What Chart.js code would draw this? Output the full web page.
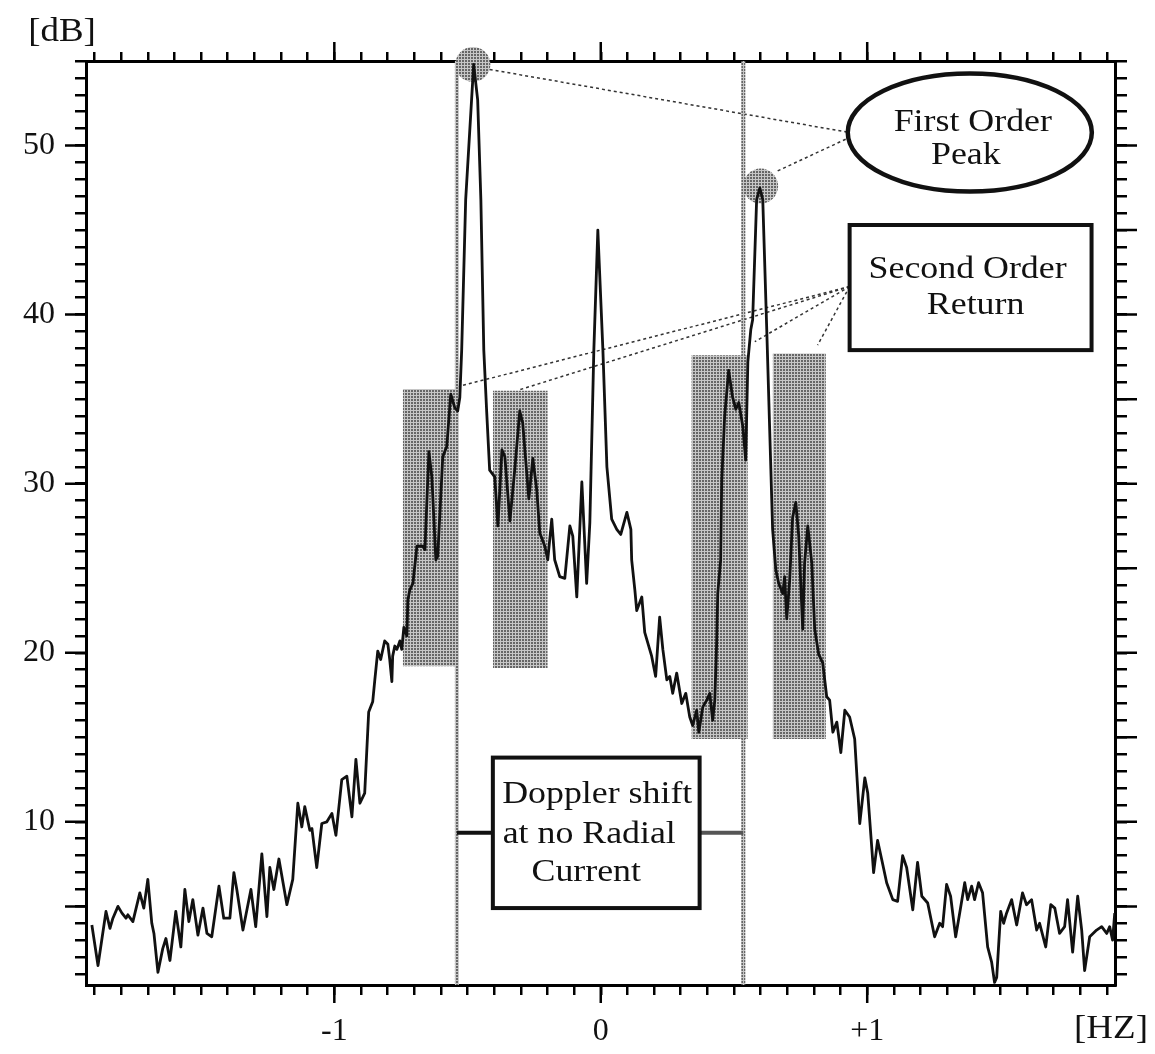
<!DOCTYPE html>
<html>
<head>
<meta charset="utf-8">
<script src="https://cdn.jsdelivr.net/npm/chart.js@4.4.1/dist/chart.umd.min.js"></script>
<style>
  html, body { margin: 0; padding: 0; background: #fff; }
  canvas { display: block; }
</style>
</head>
<body>
<canvas id="chart" width="1155" height="1054"></canvas>
<script>
Chart.defaults.font.family = "'Liberation Serif', 'Times New Roman', serif";
Chart.defaults.color = '#111';

// Doppler spectrum (Hz vs dB)
const freqHz = [
  -1.910, -1.887, -1.857, -1.842, -1.831, -1.812, -1.797, -1.782, -1.775, -1.756,
  -1.730, -1.715, -1.700, -1.685, -1.677, -1.662, -1.644, -1.632, -1.617, -1.595,
  -1.576, -1.561, -1.546, -1.531, -1.512, -1.493, -1.478, -1.460, -1.433, -1.415,
  -1.392, -1.377, -1.366, -1.343, -1.328, -1.313, -1.295, -1.272, -1.253, -1.242,
  -1.227, -1.208, -1.178, -1.156, -1.137, -1.122, -1.111, -1.092, -1.084, -1.066,
  -1.047, -1.028, -1.009, -0.994, -0.972, -0.953, -0.934, -0.919, -0.904, -0.886,
  -0.871, -0.856, -0.848, -0.837, -0.826, -0.811, -0.799, -0.792, -0.784, -0.781,
  -0.773, -0.765, -0.754, -0.747, -0.739, -0.728, -0.724, -0.717, -0.705, -0.690,
  -0.668, -0.660, -0.645, -0.634, -0.619, -0.612, -0.593, -0.578, -0.563, -0.548,
  -0.537, -0.529, -0.522, -0.507, -0.477, -0.462, -0.450, -0.439, -0.428, -0.417,
  -0.398, -0.386, -0.371, -0.360, -0.341, -0.323, -0.304, -0.293, -0.270, -0.255,
  -0.240, -0.229, -0.210, -0.199, -0.184, -0.173, -0.154, -0.135, -0.116, -0.105,
  -0.090, -0.071, -0.053, -0.041, -0.026, -0.011, 0.008, 0.023, 0.041, 0.060,
  0.075, 0.098, 0.113, 0.116, 0.128, 0.135, 0.154, 0.165, 0.191, 0.206,
  0.221, 0.233, 0.248, 0.259, 0.270, 0.285, 0.304, 0.319, 0.334, 0.345,
  0.360, 0.368, 0.383, 0.398, 0.409, 0.420, 0.428, 0.435, 0.439, 0.450,
  0.454, 0.465, 0.480, 0.495, 0.507, 0.518, 0.533, 0.544, 0.552, 0.563,
  0.570, 0.585, 0.597, 0.608, 0.623, 0.634, 0.645, 0.657, 0.668, 0.683,
  0.690, 0.698, 0.709, 0.720, 0.732, 0.743, 0.758, 0.765, 0.777, 0.792,
  0.803, 0.818, 0.833, 0.848, 0.859, 0.871, 0.886, 0.901, 0.916, 0.934,
  0.953, 0.972, 0.991, 1.002, 1.024, 1.039, 1.054, 1.073, 1.096, 1.114,
  1.133, 1.148, 1.171, 1.189, 1.205, 1.227, 1.253, 1.272, 1.283, 1.298,
  1.313, 1.332, 1.347, 1.366, 1.377, 1.392, 1.403, 1.418, 1.433, 1.452,
  1.467, 1.478, 1.486, 1.501, 1.512, 1.523, 1.542, 1.561, 1.583, 1.598,
  1.617, 1.636, 1.647, 1.670, 1.689, 1.704, 1.722, 1.741, 1.752, 1.771,
  1.790, 1.805, 1.816, 1.835, 1.861, 1.880, 1.899, 1.910, 1.921, 1.929
];
const levelDb = [
  3.9, 1.5, 4.7, 3.7, 4.3, 5.0, 4.6, 4.3, 4.5, 4.1,
  5.8, 4.9, 6.6, 4.0, 3.4, 1.1, 2.5, 3.1, 1.8, 4.7,
  2.6, 6.0, 4.1, 5.4, 3.3, 4.9, 3.4, 3.2, 6.2, 4.3,
  4.3, 7.0, 6.0, 3.6, 4.8, 6.0, 3.8, 8.1, 4.4, 7.3,
  6.0, 7.8, 5.1, 6.6, 11.1, 9.7, 10.9, 9.5, 9.6, 7.3,
  9.9, 10.0, 10.5, 9.2, 12.5, 12.7, 10.3, 13.7, 11.1, 11.7,
  16.5, 17.1, 18.4, 20.1, 19.6, 20.7, 20.5, 19.6, 18.3, 19.8,
  20.4, 20.2, 20.7, 20.2, 21.5, 21.0, 23.1, 23.7, 24.1, 26.3,
  26.3, 26.1, 31.9, 30.4, 25.5, 25.7, 31.6, 32.2, 35.3, 34.5,
  34.3, 35.1, 37.9, 46.8, 54.8, 52.7, 46.8, 37.9, 34.2, 30.8,
  30.4, 27.5, 32.0, 31.6, 27.8, 30.8, 34.3, 33.6, 29.1, 31.5,
  29.6, 27.1, 26.3, 25.5, 27.9, 25.5, 24.5, 24.4, 27.5, 26.9,
  23.3, 30.1, 24.1, 27.7, 37.9, 45.0, 37.9, 31.0, 27.9, 27.3,
  27.0, 28.3, 27.3, 25.5, 23.7, 22.5, 23.3, 21.2, 19.8, 18.6,
  22.1, 20.2, 18.4, 18.6, 17.6, 18.8, 17.0, 17.6, 16.2, 15.7,
  16.6, 15.3, 16.8, 17.2, 17.6, 16.0, 17.2, 20.6, 23.5, 25.5,
  30.2, 34.0, 36.7, 35.1, 34.4, 34.8, 33.4, 31.4, 37.2, 39.1,
  39.7, 46.8, 47.5, 46.8, 39.1, 33.2, 27.3, 24.9, 24.1, 23.5,
  24.5, 22.0, 24.3, 28.0, 28.9, 26.9, 21.4, 25.3, 27.5, 25.3,
  21.4, 19.9, 19.4, 17.4, 17.2, 15.3, 15.9, 14.1, 16.6, 16.2,
  14.9, 9.9, 12.6, 11.7, 7.0, 8.9, 7.8, 6.4, 5.4, 5.3,
  8.0, 7.3, 4.8, 7.6, 5.6, 5.2, 3.2, 4.0, 3.8, 6.3,
  5.6, 3.2, 4.6, 6.4, 5.4, 6.2, 5.4, 6.4, 5.8, 2.6,
  1.7, 0.5, 0.8, 4.7, 4.0, 4.6, 5.4, 3.9, 5.8, 5.1,
  5.4, 3.6, 4.0, 2.6, 5.1, 4.9, 3.4, 3.8, 5.4, 2.3,
  5.6, 3.6, 1.2, 3.2, 3.6, 3.8, 3.4, 3.8, 3.0, 4.6
];

// axes
const xMin = -1.932, xMax = 1.93;
const yMin = 0.35, yMax = 55;
const xLabelValues = [-1, 0, 1];
const xLabels = ['-1', '0', '+1'];
const yLabelValues = [10, 20, 30, 40, 50];
const yMajorLeft = [5, 10, 20, 30, 40, 50];
const yMajorRight = [5, 10, 15, 20, 25, 30, 35, 40, 45, 50];

// annotations (data units)
const braggHz = [-0.54, 0.535];
const peakHz = [-0.48, 0.60];
const peakDb = [54.8, 47.6];
const bandFromHz = [-0.743, -0.405, 0.340, 0.645];
const bandToHz = [-0.535, -0.199, 0.552, 0.845];
const bandTopDb = [35.6, 35.5, 37.6, 37.7];
const bandBottomDb = [19.2, 19.1, 14.9, 14.9];
const ovalCenter = { x: 1.385, y: 50.77 };
const ovalRadius = { x: 0.458, y: 3.49 };
const secondBox = { x0: 0.934, x1: 1.842, y0: 37.9, y1: 45.3 };
const dopplerBox = { x0: -0.405, x1: 0.371, y0: 4.9, y1: 13.8 };
const dopplerLinkDb = 9.35;
const firstLinks = [
  [{ x: -0.417, y: 54.5 }, { x: 0.923, y: 50.8 }],
  [{ x: 0.664, y: 48.5 }, { x: 0.923, y: 50.4 }]
];
const secondLinkFrom = { x: 0.934, y: 41.66 };
const secondLinkTo = [
  { x: -0.537, y: 35.74 }, { x: -0.304, y: 35.56 },
  { x: 0.578, y: 38.4 }, { x: 0.814, y: 38.2 }
];

const xTickValues = [];
for (let i = -19; i <= 19; i++) xTickValues.push(i / 10);
const yTickValues = [];
for (let i = 1; i <= 55; i++) yTickValues.push(i);

const canvas = document.getElementById('chart');
const ctx0 = canvas.getContext('2d');

// stippled grey like the scanned halftone
const tile = document.createElement('canvas');
tile.width = 3; tile.height = 3;
const tg = tile.getContext('2d');
tg.fillStyle = '#c6c6c6';
tg.fillRect(0, 0, 3, 3);
tg.fillStyle = '#666';
tg.fillRect(0, 0, 2, 2);
const stipple = ctx0.createPattern(tile, 'repeat');

const datasets = [];

datasets.push({
  data: freqHz.map((f, i) => ({ x: f, y: levelDb[i] })),
  showLine: true,
  borderColor: '#111',
  borderWidth: 2.8,
  borderJoinStyle: 'round',
  pointRadius: 0,
  order: 0,
});

datasets.push({
  data: peakHz.map((f, i) => ({ x: f, y: peakDb[i] })),
  showLine: false,
  pointRadius: 17.5,
  pointBackgroundColor: stipple,
  pointBorderWidth: 0,
  clip: false,
  order: 1,
});

braggHz.forEach(f => {
  datasets.push({
    data: [{ x: f, y: yMin }, { x: f, y: yMax }],
    showLine: true,
    borderColor: stipple,
    borderWidth: 4,
    pointRadius: 0,
    order: 2,
  });
});

firstLinks.forEach(seg => {
  datasets.push({
    data: seg,
    showLine: true,
    borderColor: '#333',
    borderWidth: 1.5,
    borderDash: [3, 3],
    pointRadius: 0,
    order: 2,
  });
});

secondLinkTo.forEach(p => {
  datasets.push({
    data: [secondLinkFrom, p],
    showLine: true,
    borderColor: '#333',
    borderWidth: 1.5,
    borderDash: [3, 3],
    pointRadius: 0,
    order: 2,
  });
});

bandFromHz.forEach((f, i) => {
  datasets.push({
    data: [{ x: f, y: bandTopDb[i] }, { x: bandToHz[i], y: bandTopDb[i] }],
    showLine: true,
    borderWidth: 0,
    borderColor: 'rgba(0,0,0,0)',
    backgroundColor: stipple,
    fill: { value: bandBottomDb[i] },
    pointRadius: 0,
    order: 3,
  });
});

function serifText(ctx, text, x, y, size) {
  ctx.save();
  ctx.translate(x, y);
  ctx.scale(1.12, 1);
  ctx.font = size + "px 'Liberation Serif', serif";
  ctx.fillStyle = '#111';
  ctx.textAlign = 'center';
  ctx.textBaseline = 'middle';
  ctx.fillText(text, 0, 0);
  ctx.restore();
}

const overlay = {
  id: 'overlay',
  afterDatasetsDraw(chart) {
    const { ctx, scales: { x, y } } = chart;
    ctx.save();

    // Doppler shift box with connectors to the Bragg lines
    const dl = x.getPixelForValue(dopplerBox.x0), dr = x.getPixelForValue(dopplerBox.x1);
    const dt = y.getPixelForValue(dopplerBox.y1), db = y.getPixelForValue(dopplerBox.y0);
    const ly = y.getPixelForValue(dopplerLinkDb);
    ctx.lineWidth = 4;
    ctx.strokeStyle = '#111';
    ctx.beginPath();
    ctx.moveTo(x.getPixelForValue(braggHz[0]), ly);
    ctx.lineTo(dl, ly);
    ctx.stroke();
    ctx.strokeStyle = '#555';
    ctx.beginPath();
    ctx.moveTo(dr, ly);
    ctx.lineTo(x.getPixelForValue(braggHz[1]), ly);
    ctx.stroke();
    ctx.fillStyle = '#fff';
    ctx.fillRect(dl, dt, dr - dl, db - dt);
    ctx.strokeStyle = '#111';
    ctx.strokeRect(dl, dt, dr - dl, db - dt);
    const dc = (dl + dr) / 2, dm = (dt + db) / 2;
    serifText(ctx, 'Doppler shift', dc + 1, dm - 38, 32);
    serifText(ctx, 'at no Radial', dc - 7, dm + 2, 32);
    serifText(ctx, 'Current', dc - 10, dm + 40, 32);

    // First Order Peak oval
    const ox = x.getPixelForValue(ovalCenter.x), oy = y.getPixelForValue(ovalCenter.y);
    const orx = x.getPixelForValue(ovalCenter.x + ovalRadius.x) - ox;
    const ory = oy - y.getPixelForValue(ovalCenter.y + ovalRadius.y);
    ctx.beginPath();
    ctx.ellipse(ox, oy, orx, ory, 0, 0, Math.PI * 2);
    ctx.fillStyle = '#fff';
    ctx.fill();
    ctx.lineWidth = 4.5;
    ctx.stroke();
    serifText(ctx, 'First Order', ox + 3, oy - 10, 32);
    serifText(ctx, 'Peak', ox - 4, oy + 23, 32);

    // Second Order Return box
    const sl = x.getPixelForValue(secondBox.x0), sr = x.getPixelForValue(secondBox.x1);
    const st = y.getPixelForValue(secondBox.y1), sb = y.getPixelForValue(secondBox.y0);
    ctx.fillStyle = '#fff';
    ctx.fillRect(sl, st, sr - sl, sb - st);
    ctx.lineWidth = 4;
    ctx.strokeRect(sl, st, sr - sl, sb - st);
    const sc = (sl + sr) / 2, sm = (st + sb) / 2;
    serifText(ctx, 'Second Order', sc - 3, sm - 18, 32);
    serifText(ctx, 'Return', sc + 5, sm + 18, 32);

    ctx.restore();
  },
  afterDraw(chart) {
    const { ctx, chartArea: a, scales: { x, y } } = chart;
    ctx.save();
    ctx.strokeStyle = '#000';
    ctx.lineWidth = 2.5;
    ctx.beginPath();
    xLabelValues.forEach(v => {
      const px = x.getPixelForValue(v);
      ctx.moveTo(px, a.bottom); ctx.lineTo(px, a.bottom + 18);
      ctx.moveTo(px, a.top); ctx.lineTo(px, a.top - 19);
    });
    yMajorLeft.forEach(v => {
      const py = y.getPixelForValue(v);
      ctx.moveTo(a.left, py); ctx.lineTo(a.left - 21, py);
    });
    yMajorRight.forEach(v => {
      const py = y.getPixelForValue(v);
      ctx.moveTo(a.right, py); ctx.lineTo(a.right + 22, py);
    });
    ctx.stroke();
    serifText(ctx, '[dB]', 62, 32, 33);
    serifText(ctx, '[HZ]', 1111, 1029, 33);
    ctx.restore();
  }
};

const tickGrid = (len) => ({
  display: true,
  drawOnChartArea: false,
  drawTicks: true,
  tickLength: len,
  tickWidth: 2.5,
  tickColor: '#000',
  lineWidth: 2.5,
  color: '#000',
});
const axisBorder = { display: true, color: '#000', width: 3 };
const setXTicks = (s) => { s.ticks = xTickValues.map(v => ({ value: v })); };
const setYTicks = (s) => { s.ticks = yTickValues.map(v => ({ value: v })); };

new Chart(canvas, {
  type: 'scatter',
  data: { datasets },
  options: {
    responsive: false,
    animation: false,
    events: [],
    layout: { padding: 0 },
    plugins: {
      legend: { display: false },
      tooltip: { enabled: false },
    },
    scales: {
      x: {
        type: 'linear',
        position: 'bottom',
        min: xMin, max: xMax,
        afterBuildTicks: setXTicks,
        afterFit: (s) => { s.height = 69; },
        grid: tickGrid(10),
        border: axisBorder,
        ticks: {
          autoSkip: false,
          maxRotation: 0,
          padding: 17,
          font: { size: 32 },
          callback: (v) => {
            const i = xLabelValues.findIndex(l => Math.abs(l - v) < 1e-6);
            return i >= 0 ? xLabels[i] : '';
          },
        },
      },
      x2: {
        type: 'linear',
        position: 'top',
        min: xMin, max: xMax,
        afterBuildTicks: setXTicks,
        afterFit: (s) => { s.height = 61; },
        grid: tickGrid(9),
        border: axisBorder,
        ticks: { display: false, autoSkip: false },
      },
      y: {
        type: 'linear',
        position: 'left',
        min: yMin, max: yMax,
        afterBuildTicks: setYTicks,
        afterFit: (s) => { s.width = 86; },
        grid: tickGrid(11),
        border: axisBorder,
        ticks: {
          autoSkip: false,
          padding: 20,
          font: { size: 32 },
          callback: (v) => yLabelValues.includes(v) ? String(v) : '',
        },
      },
      y2: {
        type: 'linear',
        position: 'right',
        min: yMin, max: yMax,
        afterBuildTicks: setYTicks,
        afterFit: (s) => { s.width = 40; },
        grid: tickGrid(12),
        border: axisBorder,
        ticks: { display: false, autoSkip: false },
      },
    },
  },
  plugins: [overlay],
});
</script>
</body>
</html>
